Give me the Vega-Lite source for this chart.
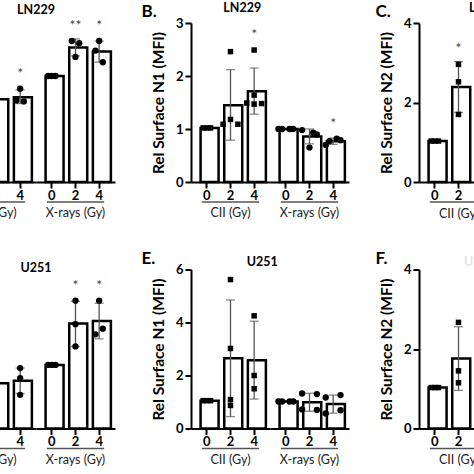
{
  "$schema": "https://vega.github.io/schema/vega-lite/v6.json",
  "padding": {"left": -43, "top": 1, "right": 0, "bottom": 0},
  "background": "white",
  "datasets": {
    "all": [
      {"panel": "A", "group": "CII (Gy)", "dose": "2", "kind": "bar", "value": 0.78},
      {"panel": "A", "group": "CII (Gy)", "dose": "4", "kind": "bar", "value": 0.80, "lo": 0.74, "hi": 0.87, "star": "*"},
      {"panel": "A", "group": "CII (Gy)", "dose": "4", "kind": "pt", "value": 0.88, "rep": 1},
      {"panel": "A", "group": "CII (Gy)", "dose": "4", "kind": "pt", "value": 0.77, "rep": 2},
      {"panel": "A", "group": "CII (Gy)", "dose": "4", "kind": "pt", "value": 0.76, "rep": 3},
      {"panel": "A", "group": "X-rays (Gy)", "dose": "0", "kind": "bar", "value": 1.0},
      {"panel": "A", "group": "X-rays (Gy)", "dose": "0", "kind": "pt", "value": 1.0, "rep": 1},
      {"panel": "A", "group": "X-rays (Gy)", "dose": "0", "kind": "pt", "value": 1.0, "rep": 2},
      {"panel": "A", "group": "X-rays (Gy)", "dose": "0", "kind": "pt", "value": 1.0, "rep": 3},
      {"panel": "A", "group": "X-rays (Gy)", "dose": "2", "kind": "bar", "value": 1.27, "lo": 1.19, "hi": 1.35, "star": "**"},
      {"panel": "A", "group": "X-rays (Gy)", "dose": "2", "kind": "pt", "value": 1.18, "rep": 1},
      {"panel": "A", "group": "X-rays (Gy)", "dose": "2", "kind": "pt", "value": 1.33, "rep": 2},
      {"panel": "A", "group": "X-rays (Gy)", "dose": "2", "kind": "pt", "value": 1.31, "rep": 3},
      {"panel": "A", "group": "X-rays (Gy)", "dose": "4", "kind": "bar", "value": 1.23, "lo": 1.13, "hi": 1.33, "star": "*"},
      {"panel": "A", "group": "X-rays (Gy)", "dose": "4", "kind": "pt", "value": 1.33, "rep": 1},
      {"panel": "A", "group": "X-rays (Gy)", "dose": "4", "kind": "pt", "value": 1.24, "rep": 2},
      {"panel": "A", "group": "X-rays (Gy)", "dose": "4", "kind": "pt", "value": 1.13, "rep": 3},

      {"panel": "B", "group": "CII (Gy)", "dose": "0", "kind": "bar", "value": 1.02},
      {"panel": "B", "group": "CII (Gy)", "dose": "0", "kind": "pt", "value": 1.02, "rep": 1},
      {"panel": "B", "group": "CII (Gy)", "dose": "0", "kind": "pt", "value": 1.02, "rep": 2},
      {"panel": "B", "group": "CII (Gy)", "dose": "0", "kind": "pt", "value": 1.02, "rep": 3},
      {"panel": "B", "group": "CII (Gy)", "dose": "2", "kind": "bar", "value": 1.45, "lo": 0.79, "hi": 2.12},
      {"panel": "B", "group": "CII (Gy)", "dose": "2", "kind": "pt", "value": 2.46, "rep": 1},
      {"panel": "B", "group": "CII (Gy)", "dose": "2", "kind": "pt", "value": 1.09, "rep": 4},
      {"panel": "B", "group": "CII (Gy)", "dose": "2", "kind": "pt", "value": 1.18, "rep": 1},
      {"panel": "B", "group": "CII (Gy)", "dose": "2", "kind": "pt", "value": 1.09, "rep": 5},
      {"panel": "B", "group": "CII (Gy)", "dose": "4", "kind": "bar", "value": 1.71, "lo": 1.28, "hi": 2.15, "star": "*"},
      {"panel": "B", "group": "CII (Gy)", "dose": "4", "kind": "pt", "value": 2.49, "rep": 1},
      {"panel": "B", "group": "CII (Gy)", "dose": "4", "kind": "pt", "value": 1.64, "rep": 1},
      {"panel": "B", "group": "CII (Gy)", "dose": "4", "kind": "pt", "value": 1.49, "rep": 4},
      {"panel": "B", "group": "CII (Gy)", "dose": "4", "kind": "pt", "value": 1.47, "rep": 1},
      {"panel": "B", "group": "CII (Gy)", "dose": "4", "kind": "pt", "value": 1.48, "rep": 5},
      {"panel": "B", "group": "X-rays (Gy)", "dose": "0", "kind": "bar", "value": 1.0},
      {"panel": "B", "group": "X-rays (Gy)", "dose": "0", "kind": "pt", "value": 1.0, "rep": 4},
      {"panel": "B", "group": "X-rays (Gy)", "dose": "0", "kind": "pt", "value": 1.0, "rep": 2},
      {"panel": "B", "group": "X-rays (Gy)", "dose": "0", "kind": "pt", "value": 1.0, "rep": 3},
      {"panel": "B", "group": "X-rays (Gy)", "dose": "0", "kind": "pt", "value": 1.0, "rep": 5},
      {"panel": "B", "group": "X-rays (Gy)", "dose": "2", "kind": "bar", "value": 0.86, "lo": 0.72, "hi": 1.0},
      {"panel": "B", "group": "X-rays (Gy)", "dose": "2", "kind": "pt", "value": 0.98, "rep": 4},
      {"panel": "B", "group": "X-rays (Gy)", "dose": "2", "kind": "pt", "value": 0.93, "rep": 3},
      {"panel": "B", "group": "X-rays (Gy)", "dose": "2", "kind": "pt", "value": 0.90, "rep": 5},
      {"panel": "B", "group": "X-rays (Gy)", "dose": "2", "kind": "pt", "value": 0.65, "rep": 1},
      {"panel": "B", "group": "X-rays (Gy)", "dose": "4", "kind": "bar", "value": 0.77, "lo": 0.71, "hi": 0.83, "star": "*"},
      {"panel": "B", "group": "X-rays (Gy)", "dose": "4", "kind": "pt", "value": 0.82, "rep": 3},
      {"panel": "B", "group": "X-rays (Gy)", "dose": "4", "kind": "pt", "value": 0.79, "rep": 5},
      {"panel": "B", "group": "X-rays (Gy)", "dose": "4", "kind": "pt", "value": 0.77, "rep": 2},
      {"panel": "B", "group": "X-rays (Gy)", "dose": "4", "kind": "pt", "value": 0.70, "rep": 4},

      {"panel": "C", "group": "CII (Gy)", "dose": "0", "kind": "bar", "value": 1.03},
      {"panel": "C", "group": "CII (Gy)", "dose": "0", "kind": "pt", "value": 1.03, "rep": 1},
      {"panel": "C", "group": "CII (Gy)", "dose": "0", "kind": "pt", "value": 1.03, "rep": 2},
      {"panel": "C", "group": "CII (Gy)", "dose": "0", "kind": "pt", "value": 1.03, "rep": 3},
      {"panel": "C", "group": "CII (Gy)", "dose": "2", "kind": "bar", "value": 2.39, "lo": 1.75, "hi": 3.03, "star": "*"},
      {"panel": "C", "group": "CII (Gy)", "dose": "2", "kind": "pt", "value": 2.96, "rep": 1},
      {"panel": "C", "group": "CII (Gy)", "dose": "2", "kind": "pt", "value": 2.52, "rep": 1},
      {"panel": "C", "group": "CII (Gy)", "dose": "2", "kind": "pt", "value": 1.70, "rep": 1},

      {"panel": "D", "group": "CII (Gy)", "dose": "2", "kind": "bar", "value": 0.71},
      {"panel": "D", "group": "CII (Gy)", "dose": "4", "kind": "bar", "value": 0.75, "lo": 0.55, "hi": 0.95},
      {"panel": "D", "group": "CII (Gy)", "dose": "4", "kind": "pt", "value": 0.95, "rep": 1},
      {"panel": "D", "group": "CII (Gy)", "dose": "4", "kind": "pt", "value": 0.79, "rep": 1},
      {"panel": "D", "group": "CII (Gy)", "dose": "4", "kind": "pt", "value": 0.53, "rep": 1},
      {"panel": "D", "group": "X-rays (Gy)", "dose": "0", "kind": "bar", "value": 1.0},
      {"panel": "D", "group": "X-rays (Gy)", "dose": "0", "kind": "pt", "value": 1.0, "rep": 1},
      {"panel": "D", "group": "X-rays (Gy)", "dose": "0", "kind": "pt", "value": 1.0, "rep": 2},
      {"panel": "D", "group": "X-rays (Gy)", "dose": "0", "kind": "pt", "value": 1.0, "rep": 3},
      {"panel": "D", "group": "X-rays (Gy)", "dose": "2", "kind": "bar", "value": 1.65, "lo": 1.29, "hi": 2.0, "star": "*"},
      {"panel": "D", "group": "X-rays (Gy)", "dose": "2", "kind": "pt", "value": 2.01, "rep": 1},
      {"panel": "D", "group": "X-rays (Gy)", "dose": "2", "kind": "pt", "value": 1.64, "rep": 1},
      {"panel": "D", "group": "X-rays (Gy)", "dose": "2", "kind": "pt", "value": 1.29, "rep": 1},
      {"panel": "D", "group": "X-rays (Gy)", "dose": "4", "kind": "bar", "value": 1.69, "lo": 1.41, "hi": 1.97, "star": "*"},
      {"panel": "D", "group": "X-rays (Gy)", "dose": "4", "kind": "pt", "value": 2.01, "rep": 1},
      {"panel": "D", "group": "X-rays (Gy)", "dose": "4", "kind": "pt", "value": 1.57, "rep": 3},
      {"panel": "D", "group": "X-rays (Gy)", "dose": "4", "kind": "pt", "value": 1.48, "rep": 2},

      {"panel": "E", "group": "CII (Gy)", "dose": "0", "kind": "bar", "value": 1.05},
      {"panel": "E", "group": "CII (Gy)", "dose": "0", "kind": "pt", "value": 1.05, "rep": 1},
      {"panel": "E", "group": "CII (Gy)", "dose": "0", "kind": "pt", "value": 1.05, "rep": 2},
      {"panel": "E", "group": "CII (Gy)", "dose": "0", "kind": "pt", "value": 1.05, "rep": 3},
      {"panel": "E", "group": "CII (Gy)", "dose": "2", "kind": "bar", "value": 2.65, "lo": 0.45, "hi": 4.85},
      {"panel": "E", "group": "CII (Gy)", "dose": "2", "kind": "pt", "value": 5.62, "rep": 1},
      {"panel": "E", "group": "CII (Gy)", "dose": "2", "kind": "pt", "value": 3.02, "rep": 1},
      {"panel": "E", "group": "CII (Gy)", "dose": "2", "kind": "pt", "value": 1.09, "rep": 1},
      {"panel": "E", "group": "CII (Gy)", "dose": "2", "kind": "pt", "value": 0.87, "rep": 1},
      {"panel": "E", "group": "CII (Gy)", "dose": "4", "kind": "bar", "value": 2.58, "lo": 1.11, "hi": 4.05},
      {"panel": "E", "group": "CII (Gy)", "dose": "4", "kind": "pt", "value": 4.25, "rep": 1},
      {"panel": "E", "group": "CII (Gy)", "dose": "4", "kind": "pt", "value": 2.0, "rep": 1},
      {"panel": "E", "group": "CII (Gy)", "dose": "4", "kind": "pt", "value": 1.5, "rep": 1},
      {"panel": "E", "group": "X-rays (Gy)", "dose": "0", "kind": "bar", "value": 1.02},
      {"panel": "E", "group": "X-rays (Gy)", "dose": "0", "kind": "pt", "value": 1.02, "rep": 4},
      {"panel": "E", "group": "X-rays (Gy)", "dose": "0", "kind": "pt", "value": 1.02, "rep": 2},
      {"panel": "E", "group": "X-rays (Gy)", "dose": "0", "kind": "pt", "value": 1.02, "rep": 3},
      {"panel": "E", "group": "X-rays (Gy)", "dose": "0", "kind": "pt", "value": 1.02, "rep": 5},
      {"panel": "E", "group": "X-rays (Gy)", "dose": "2", "kind": "bar", "value": 0.99, "lo": 0.65, "hi": 1.33},
      {"panel": "E", "group": "X-rays (Gy)", "dose": "2", "kind": "pt", "value": 1.32, "rep": 4},
      {"panel": "E", "group": "X-rays (Gy)", "dose": "2", "kind": "pt", "value": 1.30, "rep": 5},
      {"panel": "E", "group": "X-rays (Gy)", "dose": "2", "kind": "pt", "value": 0.72, "rep": 4},
      {"panel": "E", "group": "X-rays (Gy)", "dose": "2", "kind": "pt", "value": 0.70, "rep": 5},
      {"panel": "E", "group": "X-rays (Gy)", "dose": "4", "kind": "bar", "value": 0.92, "lo": 0.58, "hi": 1.26},
      {"panel": "E", "group": "X-rays (Gy)", "dose": "4", "kind": "pt", "value": 1.17, "rep": 4},
      {"panel": "E", "group": "X-rays (Gy)", "dose": "4", "kind": "pt", "value": 1.26, "rep": 5},
      {"panel": "E", "group": "X-rays (Gy)", "dose": "4", "kind": "pt", "value": 0.57, "rep": 4},
      {"panel": "E", "group": "X-rays (Gy)", "dose": "4", "kind": "pt", "value": 0.69, "rep": 5},

      {"panel": "F", "group": "CII (Gy)", "dose": "0", "kind": "bar", "value": 1.03},
      {"panel": "F", "group": "CII (Gy)", "dose": "0", "kind": "pt", "value": 1.03, "rep": 1},
      {"panel": "F", "group": "CII (Gy)", "dose": "0", "kind": "pt", "value": 1.03, "rep": 2},
      {"panel": "F", "group": "CII (Gy)", "dose": "0", "kind": "pt", "value": 1.03, "rep": 3},
      {"panel": "F", "group": "CII (Gy)", "dose": "2", "kind": "bar", "value": 1.76, "lo": 0.96, "hi": 2.56},
      {"panel": "F", "group": "CII (Gy)", "dose": "2", "kind": "pt", "value": 2.67, "rep": 1},
      {"panel": "F", "group": "CII (Gy)", "dose": "2", "kind": "pt", "value": 1.45, "rep": 1},
      {"panel": "F", "group": "CII (Gy)", "dose": "2", "kind": "pt", "value": 1.15, "rep": 1}
    ]
  },
  "spacing": 29.5,
  "vconcat": [
    {
      "spacing": 26,
      "hconcat": [
        {
          "title": {"text": "A.", "anchor": "start", "frame": "bounds", "fontSize": 17, "offset": -19},
          "vconcat": [{
            "title": {"text": "LN229", "anchor": "middle", "frame": "bounds", "fontSize": 12.5, "offset": 3},
            "data": {"name": "all"},
            "transform": [{"filter": "datum.panel == 'A'"}],
            "facet": {"column": {"field": "group", "type": "nominal", "sort": ["CII (Gy)", "X-rays (Gy)"], "title": null}},
            "spacing": 0,
            "resolve": {"axis": {"x": "independent"}},
            "spec": {
              "width": 79, "height": 159,
              "encoding": {"x": {"field": "dose", "type": "ordinal", "title": null, "scale": {"domain": ["0", "2", "4"], "paddingInner": 0.47, "paddingOuter": 0.405}}},
              "layer": [
                {"transform": [{"filter": "datum.kind == 'bar'"}], "mark": {"type": "bar", "fill": "white", "stroke": "black", "strokeWidth": 2.5},
                 "encoding": {"y": {"field": "value", "type": "quantitative", "scale": {"domain": [0, 1.5]}, "axis": null}}},
                {"transform": [{"filter": "datum.kind == 'bar' && isValid(datum.lo)"}], "mark": {"type": "errorbar", "ticks": {"size": 9}, "color": "#555", "thickness": 1.3},
                 "encoding": {"y": {"field": "lo", "type": "quantitative", "scale": {"domain": [0, 1.5]}, "axis": null}, "y2": {"field": "hi"}}},
                {"transform": [{"filter": "datum.kind == 'pt'"}], "mark": {"type": "point", "filled": true, "color": "black", "opacity": 1, "shape": "circle", "size": 40},
                 "encoding": {"y": {"field": "value", "type": "quantitative", "scale": {"domain": [0, 1.5]}, "axis": null}, "xOffset": {"field": "rep", "type": "nominal", "scale": {"domain": [4, 2, 1, 3, 5], "range": [-3, 15.5]}}}},
                {"transform": [{"aggregate": [{"op": "max", "field": "value", "as": "top"}, {"op": "max", "field": "star", "as": "star"}], "groupby": ["group", "dose"]}, {"filter": "isValid(datum.star)"}],
                 "mark": {"type": "text", "dy": -15, "fontSize": 14, "color": "#444"},
                 "encoding": {"y": {"field": "top", "type": "quantitative", "scale": {"domain": [0, 1.5]}, "axis": null}, "text": {"field": "star"}}},
                {"transform": [{"aggregate": [{"op": "count", "as": "n"}], "groupby": ["group"]}],
                 "mark": {"type": "rule", "color": "#555", "strokeWidth": 1.5, "yOffset": 20, "xOffset": -5, "x2Offset": 5},
                 "encoding": {"x": {"datum": "0", "type": "ordinal", "title": null}, "x2": {"datum": "4"}, "y": {"datum": 0, "type": "quantitative", "scale": {"domain": [0, 1.5]}, "axis": null}}}
              ]
            }
          }]
        },
        {
          "title": {"text": "B.", "anchor": "start", "frame": "bounds", "fontSize": 17, "offset": -19, "dx": -10},
          "vconcat": [{
            "title": {"text": "LN229", "anchor": "middle", "frame": "bounds", "fontSize": 12.5, "offset": 3, "dx": -8},
            "data": {"name": "all"},
            "transform": [{"filter": "datum.panel == 'B'"}],
            "facet": {"column": {"field": "group", "type": "nominal", "sort": ["CII (Gy)", "X-rays (Gy)"], "title": null}},
            "spacing": 0,
            "resolve": {"axis": {"x": "independent"}},
            "spec": {
              "width": 79, "height": 159,
              "encoding": {"x": {"field": "dose", "type": "ordinal", "title": null, "scale": {"domain": ["0", "2", "4"], "paddingInner": 0.47, "paddingOuter": 0.405}}},
              "layer": [
                {"transform": [{"filter": "datum.kind == 'bar'"}], "mark": {"type": "bar", "fill": "white", "stroke": "black", "strokeWidth": 2.5},
                 "encoding": {"y": {"field": "value", "type": "quantitative", "title": "Rel Surface N1 (MFI)", "scale": {"domain": [0, 3]}, "axis": {"values": [0, 1, 2, 3]}}}},
                {"transform": [{"filter": "datum.kind == 'bar' && isValid(datum.lo)"}], "mark": {"type": "errorbar", "ticks": {"size": 9}, "color": "#555", "thickness": 1.3},
                 "encoding": {"y": {"field": "lo", "type": "quantitative", "title": "Rel Surface N1 (MFI)", "scale": {"domain": [0, 3]}}, "y2": {"field": "hi"}}},
                {"transform": [{"filter": "datum.kind == 'pt'"}], "mark": {"type": "point", "filled": true, "color": "black", "opacity": 1},
                 "encoding": {"y": {"field": "value", "type": "quantitative", "title": "Rel Surface N1 (MFI)", "scale": {"domain": [0, 3]}}, "xOffset": {"field": "rep", "type": "nominal", "scale": {"domain": [4, 2, 1, 3, 5], "range": [-3, 15.5]}},
                  "shape": {"field": "group", "type": "nominal", "scale": {"domain": ["CII (Gy)", "X-rays (Gy)"], "range": ["square", "circle"]}, "legend": null},
                  "size": {"field": "group", "type": "nominal", "scale": {"domain": ["CII (Gy)", "X-rays (Gy)"], "range": [30, 40]}, "legend": null}}},
                {"transform": [{"aggregate": [{"op": "max", "field": "value", "as": "top"}, {"op": "max", "field": "star", "as": "star"}], "groupby": ["group", "dose"]}, {"filter": "isValid(datum.star)"}],
                 "mark": {"type": "text", "dy": -15, "fontSize": 14, "color": "#444"},
                 "encoding": {"y": {"field": "top", "type": "quantitative", "title": "Rel Surface N1 (MFI)", "scale": {"domain": [0, 3]}}, "text": {"field": "star"}}},
                {"transform": [{"aggregate": [{"op": "count", "as": "n"}], "groupby": ["group"]}],
                 "mark": {"type": "rule", "color": "#555", "strokeWidth": 1.5, "yOffset": 20, "xOffset": -5, "x2Offset": 5},
                 "encoding": {"x": {"datum": "0", "type": "ordinal", "title": null}, "x2": {"datum": "4"}, "y": {"datum": 0, "type": "quantitative", "title": "Rel Surface N1 (MFI)", "scale": {"domain": [0, 3]}}}}
              ]
            }
          }]
        },
        {
          "title": {"text": "C.", "anchor": "start", "frame": "bounds", "fontSize": 17, "offset": -19, "dx": -4},
          "vconcat": [{
            "title": {"text": "LN229", "anchor": "start", "frame": "group", "fontSize": 12.5, "offset": 3, "dx": 50},
            "data": {"name": "all"},
            "transform": [{"filter": "datum.panel == 'C'"}],
            "width": 79, "height": 159,
            "encoding": {"x": {"field": "dose", "type": "ordinal", "title": "CII (Gy)", "scale": {"domain": ["0", "2", "4"], "paddingInner": 0.47, "paddingOuter": 0.405}, "axis": {"titleFontWeight": "normal", "titleFontSize": 12.5, "titleColor": "#222", "titlePadding": 5}}},
            "layer": [
              {"transform": [{"filter": "datum.kind == 'bar'"}], "mark": {"type": "bar", "fill": "white", "stroke": "black", "strokeWidth": 2.5},
               "encoding": {"y": {"field": "value", "type": "quantitative", "title": "Rel Surface N2 (MFI)", "scale": {"domain": [0, 4]}, "axis": {"values": [0, 1, 2, 3, 4]}}}},
              {"transform": [{"filter": "datum.kind == 'bar' && isValid(datum.lo)"}], "mark": {"type": "errorbar", "ticks": {"size": 9}, "color": "#555", "thickness": 1.3},
               "encoding": {"y": {"field": "lo", "type": "quantitative", "title": "Rel Surface N2 (MFI)", "scale": {"domain": [0, 4]}}, "y2": {"field": "hi"}}},
              {"transform": [{"filter": "datum.kind == 'pt'"}], "mark": {"type": "point", "filled": true, "color": "black", "opacity": 1, "shape": "square", "size": 30},
               "encoding": {"y": {"field": "value", "type": "quantitative", "title": "Rel Surface N2 (MFI)", "scale": {"domain": [0, 4]}}, "xOffset": {"field": "rep", "type": "nominal", "scale": {"domain": [4, 2, 1, 3, 5], "range": [-3, 15.5]}}}},
              {"transform": [{"aggregate": [{"op": "max", "field": "value", "as": "top"}, {"op": "max", "field": "star", "as": "star"}], "groupby": ["group", "dose"]}, {"filter": "isValid(datum.star)"}],
               "mark": {"type": "text", "dy": -15, "fontSize": 14, "color": "#444"},
               "encoding": {"y": {"field": "top", "type": "quantitative", "title": "Rel Surface N2 (MFI)", "scale": {"domain": [0, 4]}}, "text": {"field": "star"}}},
              {"transform": [{"aggregate": [{"op": "count", "as": "n"}], "groupby": ["group"]}],
               "mark": {"type": "rule", "color": "#555", "strokeWidth": 1.5, "yOffset": 20, "xOffset": -5, "x2Offset": 5},
               "encoding": {"x": {"datum": "0", "type": "ordinal"}, "x2": {"datum": "4"}, "y": {"datum": 0, "type": "quantitative", "title": "Rel Surface N2 (MFI)", "scale": {"domain": [0, 4]}}}}
            ]
          }]
        }
      ]
    },
    {
      "spacing": 26,
      "hconcat": [
        {
          "title": {"text": "D.", "anchor": "start", "frame": "bounds", "fontSize": 17, "offset": -12},
          "vconcat": [{
            "title": {"text": "U251", "anchor": "middle", "frame": "bounds", "fontSize": 12.5, "offset": -5},
            "data": {"name": "all"},
            "transform": [{"filter": "datum.panel == 'D'"}],
            "facet": {"column": {"field": "group", "type": "nominal", "sort": ["CII (Gy)", "X-rays (Gy)"], "title": null}},
            "spacing": 0,
            "resolve": {"axis": {"x": "independent"}},
            "spec": {
              "width": 79, "height": 159,
              "encoding": {"x": {"field": "dose", "type": "ordinal", "title": null, "scale": {"domain": ["0", "2", "4"], "paddingInner": 0.47, "paddingOuter": 0.405}}},
              "layer": [
                {"transform": [{"filter": "datum.kind == 'bar'"}], "mark": {"type": "bar", "fill": "white", "stroke": "black", "strokeWidth": 2.5},
                 "encoding": {"y": {"field": "value", "type": "quantitative", "scale": {"domain": [0, 2.5]}, "axis": null}}},
                {"transform": [{"filter": "datum.kind == 'bar' && isValid(datum.lo)"}], "mark": {"type": "errorbar", "ticks": {"size": 9}, "color": "#555", "thickness": 1.3},
                 "encoding": {"y": {"field": "lo", "type": "quantitative", "scale": {"domain": [0, 2.5]}, "axis": null}, "y2": {"field": "hi"}}},
                {"transform": [{"filter": "datum.kind == 'pt'"}], "mark": {"type": "point", "filled": true, "color": "black", "opacity": 1, "shape": "circle", "size": 40},
                 "encoding": {"y": {"field": "value", "type": "quantitative", "scale": {"domain": [0, 2.5]}, "axis": null}, "xOffset": {"field": "rep", "type": "nominal", "scale": {"domain": [4, 2, 1, 3, 5], "range": [-3, 15.5]}}}},
                {"transform": [{"aggregate": [{"op": "max", "field": "value", "as": "top"}, {"op": "max", "field": "star", "as": "star"}], "groupby": ["group", "dose"]}, {"filter": "isValid(datum.star)"}],
                 "mark": {"type": "text", "dy": -15, "fontSize": 14, "color": "#444"},
                 "encoding": {"y": {"field": "top", "type": "quantitative", "scale": {"domain": [0, 2.5]}, "axis": null}, "text": {"field": "star"}}},
                {"transform": [{"aggregate": [{"op": "count", "as": "n"}], "groupby": ["group"]}],
                 "mark": {"type": "rule", "color": "#555", "strokeWidth": 1.5, "yOffset": 20, "xOffset": -5, "x2Offset": 5},
                 "encoding": {"x": {"datum": "0", "type": "ordinal", "title": null}, "x2": {"datum": "4"}, "y": {"datum": 0, "type": "quantitative", "scale": {"domain": [0, 2.5]}, "axis": null}}}
              ]
            }
          }]
        },
        {
          "title": {"text": "E.", "anchor": "start", "frame": "bounds", "fontSize": 17, "offset": -12, "dx": -10},
          "vconcat": [{
            "title": {"text": "U251", "anchor": "middle", "frame": "bounds", "fontSize": 12.5, "offset": -5, "dx": 12},
            "data": {"name": "all"},
            "transform": [{"filter": "datum.panel == 'E'"}],
            "facet": {"column": {"field": "group", "type": "nominal", "sort": ["CII (Gy)", "X-rays (Gy)"], "title": null}},
            "spacing": 0,
            "resolve": {"axis": {"x": "independent"}},
            "spec": {
              "width": 79, "height": 159,
              "encoding": {"x": {"field": "dose", "type": "ordinal", "title": null, "scale": {"domain": ["0", "2", "4"], "paddingInner": 0.47, "paddingOuter": 0.405}}},
              "layer": [
                {"transform": [{"filter": "datum.kind == 'bar'"}], "mark": {"type": "bar", "fill": "white", "stroke": "black", "strokeWidth": 2.5},
                 "encoding": {"y": {"field": "value", "type": "quantitative", "title": "Rel Surface N1 (MFI)", "scale": {"domain": [0, 6]}, "axis": {"values": [0, 2, 4, 6]}}}},
                {"transform": [{"filter": "datum.kind == 'bar' && isValid(datum.lo)"}], "mark": {"type": "errorbar", "ticks": {"size": 9}, "color": "#555", "thickness": 1.3},
                 "encoding": {"y": {"field": "lo", "type": "quantitative", "title": "Rel Surface N1 (MFI)", "scale": {"domain": [0, 6]}}, "y2": {"field": "hi"}}},
                {"transform": [{"filter": "datum.kind == 'pt'"}], "mark": {"type": "point", "filled": true, "color": "black", "opacity": 1},
                 "encoding": {"y": {"field": "value", "type": "quantitative", "title": "Rel Surface N1 (MFI)", "scale": {"domain": [0, 6]}}, "xOffset": {"field": "rep", "type": "nominal", "scale": {"domain": [4, 2, 1, 3, 5], "range": [-3, 15.5]}},
                  "shape": {"field": "group", "type": "nominal", "scale": {"domain": ["CII (Gy)", "X-rays (Gy)"], "range": ["square", "circle"]}, "legend": null},
                  "size": {"field": "group", "type": "nominal", "scale": {"domain": ["CII (Gy)", "X-rays (Gy)"], "range": [30, 40]}, "legend": null}}},
                {"transform": [{"aggregate": [{"op": "count", "as": "n"}], "groupby": ["group"]}],
                 "mark": {"type": "rule", "color": "#555", "strokeWidth": 1.5, "yOffset": 20, "xOffset": -5, "x2Offset": 5},
                 "encoding": {"x": {"datum": "0", "type": "ordinal", "title": null}, "x2": {"datum": "4"}, "y": {"datum": 0, "type": "quantitative", "title": "Rel Surface N1 (MFI)", "scale": {"domain": [0, 6]}}}}
              ]
            }
          }]
        },
        {
          "title": {"text": "F.", "anchor": "start", "frame": "bounds", "fontSize": 17, "offset": -12, "dx": -4},
          "vconcat": [{
            "title": {"text": "U251", "anchor": "start", "frame": "group", "fontSize": 12.5, "offset": -5, "dx": 45, "color": "#e4e4e4"},
            "data": {"name": "all"},
            "transform": [{"filter": "datum.panel == 'F'"}],
            "width": 79, "height": 159,
            "encoding": {"x": {"field": "dose", "type": "ordinal", "title": "CII (Gy)", "scale": {"domain": ["0", "2", "4"], "paddingInner": 0.47, "paddingOuter": 0.405}, "axis": {"titleFontWeight": "normal", "titleFontSize": 12.5, "titleColor": "#222", "titlePadding": 5}}},
            "layer": [
              {"transform": [{"filter": "datum.kind == 'bar'"}], "mark": {"type": "bar", "fill": "white", "stroke": "black", "strokeWidth": 2.5},
               "encoding": {"y": {"field": "value", "type": "quantitative", "title": "Rel Surface N2 (MFI)", "scale": {"domain": [0, 4]}, "axis": {"values": [0, 1, 2, 3, 4]}}}},
              {"transform": [{"filter": "datum.kind == 'bar' && isValid(datum.lo)"}], "mark": {"type": "errorbar", "ticks": {"size": 9}, "color": "#555", "thickness": 1.3},
               "encoding": {"y": {"field": "lo", "type": "quantitative", "title": "Rel Surface N2 (MFI)", "scale": {"domain": [0, 4]}}, "y2": {"field": "hi"}}},
              {"transform": [{"filter": "datum.kind == 'pt'"}], "mark": {"type": "point", "filled": true, "color": "black", "opacity": 1, "shape": "square", "size": 30},
               "encoding": {"y": {"field": "value", "type": "quantitative", "title": "Rel Surface N2 (MFI)", "scale": {"domain": [0, 4]}}, "xOffset": {"field": "rep", "type": "nominal", "scale": {"domain": [4, 2, 1, 3, 5], "range": [-3, 15.5]}}}},
              {"transform": [{"aggregate": [{"op": "count", "as": "n"}], "groupby": ["group"]}],
               "mark": {"type": "rule", "color": "#555", "strokeWidth": 1.5, "yOffset": 20, "xOffset": -5, "x2Offset": 5},
               "encoding": {"x": {"datum": "0", "type": "ordinal"}, "x2": {"datum": "4"}, "y": {"datum": 0, "type": "quantitative", "title": "Rel Surface N2 (MFI)", "scale": {"domain": [0, 4]}}}}
            ]
          }]
        }
      ]
    }
  ],
  "config": {
    "font": "Lato",
    "view": {"stroke": null},
    "axis": {"grid": false, "domainColor": "black", "domainWidth": 2, "tickColor": "black", "tickWidth": 2, "tickSize": 6, "labelFontSize": 13, "labelFontWeight": "bold", "labelColor": "black", "titleColor": "black", "titleFontSize": 15.5, "titleFontWeight": "bold", "labelFont": "Lato", "titleFont": "Lato"},
    "axisX": {"labelAngle": 0, "labelPadding": 1},
    "axisY": {"titlePadding": 9, "labelPadding": 2},
    "header": {"labelOrient": "bottom", "labelPadding": 4, "labelFontSize": 12.5, "labelColor": "#222", "labelFont": "Lato"},
    "title": {"font": "Lato", "fontWeight": "bold", "color": "black"},
    "legend": {"disable": true}
  }
}
